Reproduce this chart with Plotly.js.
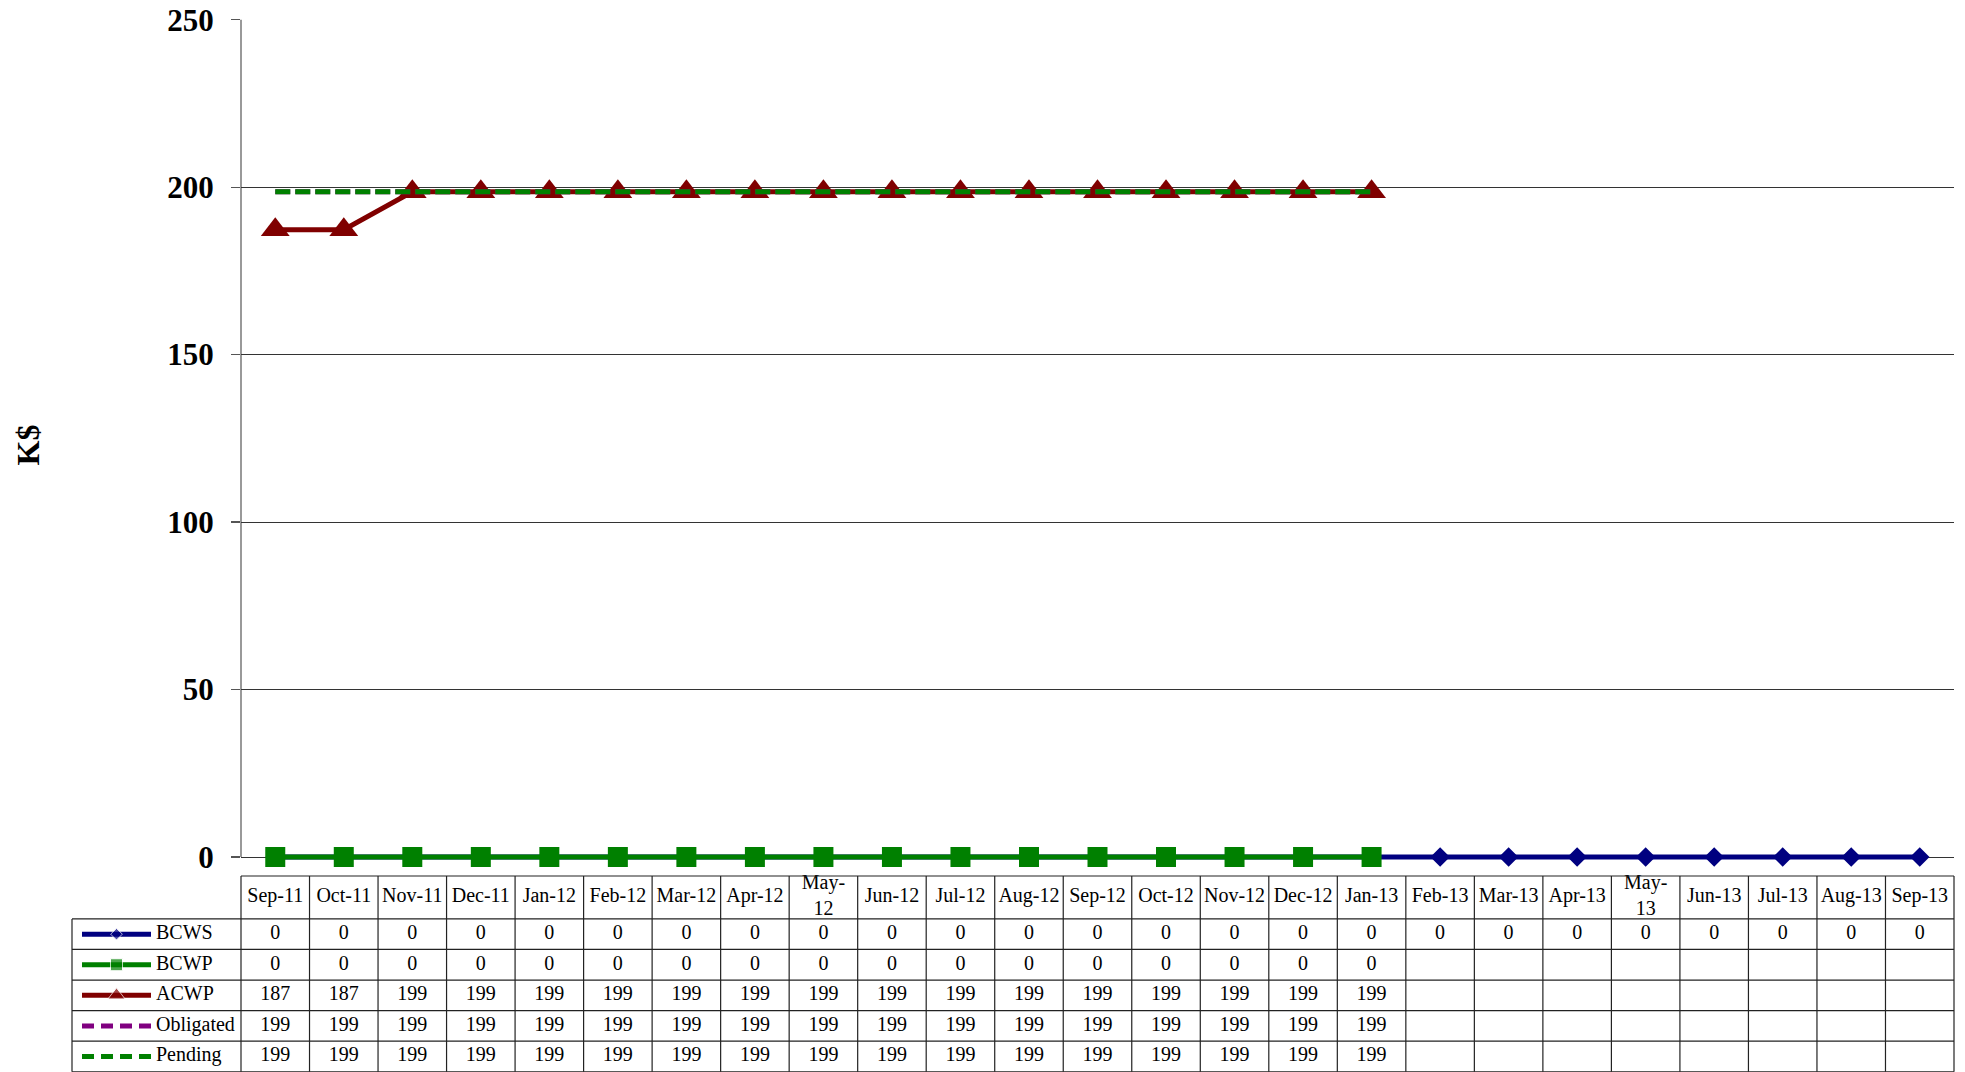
<!DOCTYPE html>
<html>
<head>
<meta charset="utf-8">
<script src="https://cdn.plot.ly/plotly-3.0.1.min.js"></script>
<style>html,body{margin:0;padding:0;background:#fff;}#chart{width:1965px;height:1072px;}</style>
</head>
<body>
<div id="chart"></div>
<script>
// ---- data ----
const months = ['Sep-11','Oct-11','Nov-11','Dec-11','Jan-12','Feb-12','Mar-12','Apr-12','May-12','Jun-12','Jul-12','Aug-12','Sep-12','Oct-12','Nov-12','Dec-12','Jan-13','Feb-13','Mar-13','Apr-13','May-13','Jun-13','Jul-13','Aug-13','Sep-13'];
const headerLabels = ['Sep-11','Oct-11','Nov-11','Dec-11','Jan-12','Feb-12','Mar-12','Apr-12','May-<br>12','Jun-12','Jul-12','Aug-12','Sep-12','Oct-12','Nov-12','Dec-12','Jan-13','Feb-13','Mar-13','Apr-13','May-<br>13','Jun-13','Jul-13','Aug-13','Sep-13'];
const bcws = [0,0,0,0,0,0,0,0,0,0,0,0,0,0,0,0,0,0,0,0,0,0,0,0,0];
const bcwp = [0,0,0,0,0,0,0,0,0,0,0,0,0,0,0,0,0];
const acwp = [187.3,187.3,198.6,198.6,198.6,198.6,198.6,198.6,198.6,198.6,198.6,198.6,198.6,198.6,198.6,198.6,198.6];
const obligated = [198.6,198.6,198.6,198.6,198.6,198.6,198.6,198.6,198.6,198.6,198.6,198.6,198.6,198.6,198.6,198.6,198.6];
const pending = [198.6,198.6,198.6,198.6,198.6,198.6,198.6,198.6,198.6,198.6,198.6,198.6,198.6,198.6,198.6,198.6,198.6];
const seriesNames = ['BCWS','BCWP','ACWP','Obligated','Pending'];
const yTicks = [0,50,100,150,200,250];

// ---- styles / geometry ----
const W = 1965, H = 1072;
const plotL = 241, plotR = 1954, plotT = 19.7, plotB = 857;
const yMax = 250, yPad = 4;                       // small pad below 0 so the zero lines are not clipped
const pxPerUnit = (plotB - plotT) / yMax;
const colW = (plotR - plotL) / months.length;
const px2col = px => (px - plotL) / colW - 0.5;
const headerTop = 876, headerBottom = 919, rowH = 30.65;
const py2row = py => (headerBottom - py) / rowH;
const FONT = 'Liberation Serif, Times New Roman, serif';
const TFS = 20;

const styles = [
  {color:'#000080', dash:'solid', symbol:'diamond', size:15, lsize:9},
  {color:'#008000', dash:'solid', symbol:'square', size:20, lsize:12},
  {color:'#800000', dash:'solid', symbol:'triangle-up', size:25, lsize:15},
  {color:'#800080', dash:'15px,5px', symbol:null, size:0, lsize:0},
  {color:'#008000', dash:'15px,5px', symbol:null, size:0, lsize:0}
];
const seriesData = [bcws, bcwp, acwp, obligated, pending];

const traces = [];
// main lines
seriesData.forEach((vals, s) => {
  const st = styles[s];
  const t = {
    type:'scatter', x: vals.map((v,i)=>i), y: vals, name: seriesNames[s],
    mode: st.symbol ? 'lines+markers' : 'lines',
    line:{color:st.color, width:5, dash:st.dash},
    cliponaxis:false, hoverinfo:'skip', xaxis:'x', yaxis:'y'
  };
  if (st.symbol) t.marker = {symbol:st.symbol, size:st.size, color:st.color};
  traces.push(t);
});

// legend samples in table
seriesData.forEach((vals, s) => {
  const st = styles[s];
  const yr = -0.5 - s;
  const t = {
    type:'scatter', x:[px2col(82), px2col(116.5), px2col(151)], y:[yr,yr,yr],
    mode: st.symbol ? 'lines+markers' : 'lines',
    line:{color:st.color, width:5, dash: st.symbol ? 'solid' : '12px,7px'},
    cliponaxis:false, hoverinfo:'skip', xaxis:'x2', yaxis:'y2'
  };
  if (st.symbol) t.marker = {symbol:st.symbol, size:[0, st.lsize, 0], color:st.color};
  traces.push(t);
});
// legend names
traces.push({
  type:'scatter', mode:'text', x: seriesNames.map(()=>px2col(156)), y: seriesNames.map((n,s)=>-0.5-s),
  text: seriesNames, textposition:'middle right',
  textfont:{family:FONT, size:TFS, color:'#000'}, hoverinfo:'skip', xaxis:'x2', yaxis:'y2', cliponaxis:false
});
// header labels
traces.push({
  type:'scatter', mode:'text', x: months.map((m,i)=>i), y: months.map(()=>py2row((headerTop+headerBottom)/2)),
  text: headerLabels, textposition:'middle center',
  textfont:{family:FONT, size:TFS, color:'#000'}, hoverinfo:'skip', xaxis:'x2', yaxis:'y2', cliponaxis:false
});
// value cells
seriesData.forEach((vals, s) => {
  traces.push({
    type:'scatter', mode:'text', x: vals.map((v,i)=>i), y: vals.map(()=>-0.5-s),
    text: vals.map(v=>String(Math.round(v))), textposition:'middle center',
    textfont:{family:FONT, size:TFS, color:'#000'}, hoverinfo:'skip', xaxis:'x2', yaxis:'y2', cliponaxis:false
  });
});

// table grid shapes
const shapes = [];
const lineStyle = {color:'#222', width:1.2};
const legendLeft = px2col(72);
const nRows = seriesNames.length;
const hTop = py2row(headerTop);
shapes.push({type:'line', xref:'x2', yref:'y2', x0:-0.5, x1:months.length-0.5, y0:hTop, y1:hTop, line:lineStyle});
for (let k = 0; k <= nRows; k++) {
  shapes.push({type:'line', xref:'x2', yref:'y2', x0:legendLeft, x1:months.length-0.5, y0:-k, y1:-k, line:lineStyle});
}
for (let i = 0; i <= months.length; i++) {
  shapes.push({type:'line', xref:'x2', yref:'y2', x0:i-0.5, x1:i-0.5, y0:-nRows, y1:hTop, line:lineStyle});
}
shapes.push({type:'line', xref:'x2', yref:'y2', x0:legendLeft, x1:legendLeft, y0:-nRows, y1:0, line:lineStyle});
// main value-axis line (from 0 to 250 only)
shapes.push({type:'line', xref:'paper', yref:'paper', layer:'below',
  x0:plotL/W, x1:plotL/W, y0:(H-plotB)/H, y1:(H-plotT)/H, line:{color:'#555', width:1.2}});

const layout = {
  width:W, height:H, margin:{l:0,r:0,t:0,b:0},
  paper_bgcolor:'#fff', plot_bgcolor:'rgba(0,0,0,0)', showlegend:false,
  font:{family:FONT, color:'#000'},
  xaxis:{domain:[plotL/W, plotR/W], range:[-0.5, months.length-0.5], showgrid:false, zeroline:false,
         showticklabels:false, ticks:'', showline:false, fixedrange:true},
  yaxis:{domain:[(H-plotB-yPad*pxPerUnit)/H, (H-plotT)/H], range:[-yPad,yMax], tickvals:yTicks, ticktext:yTicks.map(String),
         showgrid:true, gridcolor:'#333', gridwidth:1, zeroline:false,
         showline:false, ticks:'outside', ticklen:9, tickcolor:'#555', tickwidth:1.2,
         ticklabelstandoff:11,
         tickfont:{family:FONT, size:31, color:'#000', weight:'bold'},
         title:{text:'<b>K$</b>', font:{family:FONT, size:32, color:'#000'}, standoff:118}},
  xaxis2:{domain:[70/W, 1956/W], range:[px2col(70), px2col(1956)], anchor:'y2', visible:false, fixedrange:true},
  yaxis2:{domain:[0, (H-873)/H], range:[py2row(1072.5), py2row(873)], anchor:'x2', visible:false, fixedrange:true},
  shapes: shapes
};
Plotly.newPlot('chart', traces, layout, {displayModeBar:false, staticPlot:true});
</script>
</body>
</html>
